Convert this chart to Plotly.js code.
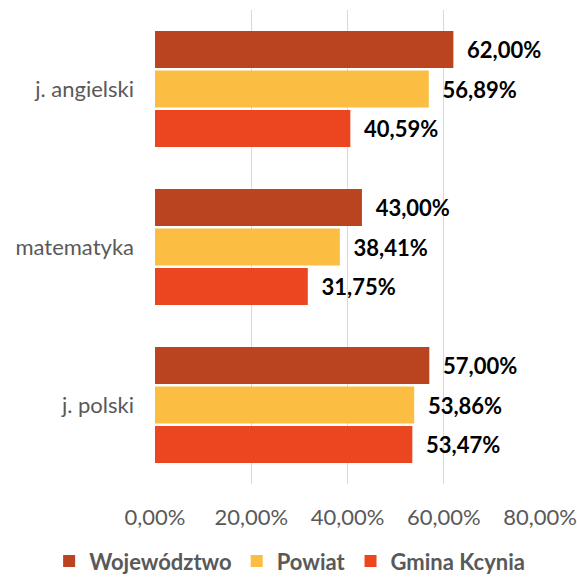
<!DOCTYPE html>
<html>
<head>
<meta charset="utf-8">
<script src="https://cdn.plot.ly/plotly-3.0.1.min.js"></script>
<style>html,body{margin:0;padding:0;background:#fff;}#chart{width:577px;height:577px;}</style>
</head>
<body>
<div id="chart"></div>
<script>
const categories = ["j. angielski", "matematyka", "j. polski"];
const seriesNames = ["Województwo", "Powiat", "Gmina Kcynia"];
const wojewodztwo = [62.00, 43.00, 57.00];
const powiat = [56.89, 38.41, 53.86];
const gmina = [40.59, 31.75, 53.47];
const xTickValues = [0, 20, 40, 60, 80];
const xTickLabels = ["0,00%", "20,00%", "40,00%", "60,00%", "80,00%"];

const colors = ["#B9441F", "#FBBD42", "#EC4620"];
const FONT = "Lato, 'Open Sans', sans-serif";
const allSeries = [wojewodztwo, powiat, gmina];

const traces = allSeries.map((vals, i) => ({
  type: "bar",
  orientation: "h",
  name: seriesNames[i],
  y: categories,
  x: vals,
  marker: {color: colors[i]},
  texttemplate: "\u00a0\u00a0%{x:.2f}%",
  textposition: "outside",
  cliponaxis: false,
  textfont: {family: FONT, size: 22, color: "#000000", weight: "bold"},
  hoverinfo: "skip"
}));

const layout = {
  width: 577, height: 577,
  margin: {l: 155, r: 37, t: 10, b: 93, autoexpand: false},
  paper_bgcolor: "#ffffff",
  plot_bgcolor: "#ffffff",
  separators: ", ",
  barmode: "group",
  bargap: 0.25,
  bargroupgap: 0.06,
  font: {family: FONT, color: "#595959"},
  showlegend: true,
  legend: {
    orientation: "h",
    x: -0.275, xref: "paper", xanchor: "left",
    y: -0.163, yref: "paper", yanchor: "middle",
    traceorder: "normal",
    font: {family: FONT, size: 22, color: "#595959", weight: "bold"},
    itemwidth: 30
  },
  xaxis: {
    range: [0, 80],
    tickvals: xTickValues,
    ticktext: xTickLabels,
    tickangle: 0,
    showgrid: true,
    gridcolor: "#D9D9D9",
    gridwidth: 1,
    zeroline: false,
    showline: false,
    ticks: "",
    ticklabelstandoff: 18,
    tickfont: {family: FONT, size: 22, color: "#595959"},
    fixedrange: true
  },
  yaxis: {
    type: "category",
    categoryorder: "array",
    categoryarray: categories,
    autorange: "reversed",
    showgrid: false,
    zeroline: false,
    showline: false,
    ticks: "",
    ticklabelstandoff: 20,
    tickfont: {family: FONT, size: 22, color: "#595959"},
    fixedrange: true
  }
};

Plotly.newPlot("chart", traces, layout, {displayModeBar: false, staticPlot: true});
</script>
</body>
</html>
